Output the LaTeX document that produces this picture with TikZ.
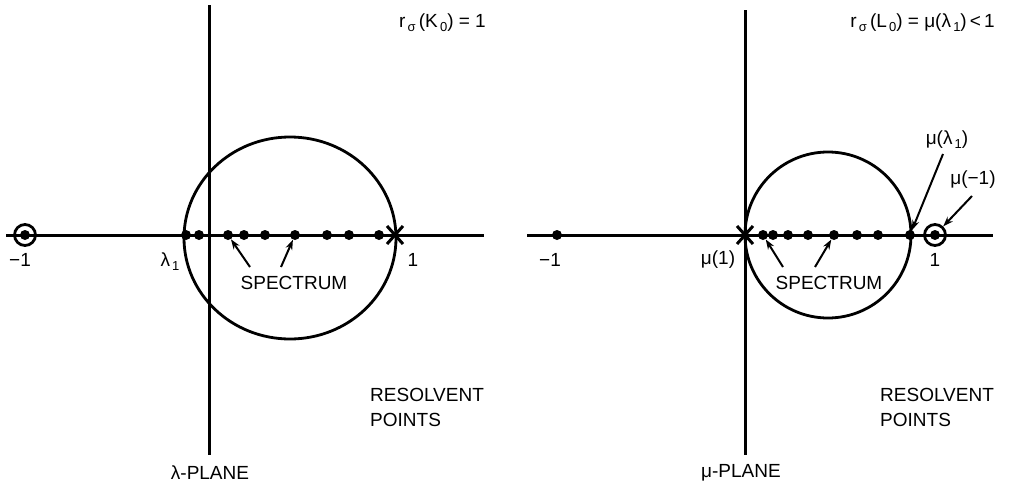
\documentclass[tikz,border=0pt]{standalone}
\usepackage{fontspec}
\setmainfont{Liberation Sans}
\usetikzlibrary{arrows.meta}
\newcommand{\lsub}[1]{\raisebox{-0.4ex}{\fontsize{13}{13}\selectfont\,#1}}
\begin{document}
\begin{tikzpicture}[x=1pt,y=-1pt,
 ax/.style={line width=3pt},
 crv/.style={line width=2.8pt},
 dot/.style={circle,fill=black,inner sep=0pt,minimum size=10pt},
 ring/.style={circle,draw=black,line width=2.8pt,inner sep=0pt,minimum size=21pt},
 lbl/.style={font=\fontsize{19}{25}\selectfont,inner sep=0pt},
 arr/.style={line width=2pt,-{Stealth[length=10pt,width=7pt]}},
 xmark/.style={line width=3pt}]
\useasboundingbox (0,0) rectangle (1013,490);

% ---------- left panel ----------
\draw[ax] (6,235) -- (484,235);
\draw[ax] (209,5) -- (209,455);
\draw[crv] (290,238) ellipse [x radius=106, y radius=101];
\foreach \i/\x in {1/186,2/199,3/228,4/244,5/265,6/295,7/327,8/349,9/379}
  \node[dot] (ld\i) at (\x,235) {};
\node[ring] (lring) at (25,235) {};
\node[dot] (lm) at (25,235) {};
\coordinate (lx) at (395,235);
\draw[xmark] ([shift={(-8,-9)}]lx) -- ([shift={(8,9)}]lx);
\draw[xmark] ([shift={(-8,9)}]lx) -- ([shift={(8,-9)}]lx);

\node[lbl] (lm1) at (20,260) {−1};
\node[lbl] (llam) at (170,262) {λ\lsub{1}};
\node[lbl] (lone) at (413,260) {1};
\node[lbl] (lspec) at (294,283) {SPECTRUM};
\coordinate (ls1) at (250,267);
\coordinate (ls2) at (281,267);
\draw[arr] (ls1) -- (ld3);
\draw[arr] (ls2) -- (ld6);
\node[lbl,anchor=east] (lrk) at (486,23) {r\lsub{σ}\,(K\lsub{0}) = 1};
\node[lbl,align=left,anchor=west] (lres) at (370,407) {RESOLVENT\\POINTS};
\node[lbl] (lplane) at (210,473) {λ-PLANE};

% ---------- right panel ----------
\draw[ax] (527,235) -- (993,235);
\draw[ax] (745,10) -- (745,455);
\draw[crv] (828,235) circle [radius=83];
\foreach \i/\x in {1/557,2/763,3/773,4/788,5/808,6/834,7/857,8/878,9/910}
  \node[dot] (rd\i) at (\x,235) {};
\node[ring] (rring) at (935,235) {};
\node[dot] (rp) at (935,235) {};
\coordinate (rx) at (745,235);
\draw[xmark] ([shift={(-8,-9)}]rx) -- ([shift={(8,9)}]rx);
\draw[xmark] ([shift={(-8,9)}]rx) -- ([shift={(8,-9)}]rx);

\node[lbl] (rm1) at (550,260) {−1};
\node[lbl] (rmu1) at (718,260) {μ(1)};
\node[lbl] (rone) at (935,260) {1};
\node[lbl] (rspec) at (829,283) {SPECTRUM};
\coordinate (rs1) at (783,267);
\coordinate (rs2) at (815,267);
\draw[arr] (rs1) -- (rd2);
\draw[arr] (rs2) -- (rd6);
\node[lbl] (rmul) at (947,140) {μ(λ\lsub{1})};
\node[lbl] (rmum) at (973,180) {μ(−1)};
\coordinate (ra1) at (943,154);
\coordinate (ra2) at (972,196);
\draw[arr] (ra1) -- (rd9);
\draw[arr] (ra2) -- (rring);
\node[lbl,anchor=east] (rrl) at (995,23) {r\lsub{σ}\,(L\lsub{0}) = μ(λ\lsub{1})\,<\,1};
\node[lbl,align=left,anchor=west] (rres) at (880,407) {RESOLVENT\\POINTS};
\node[lbl] (rplane) at (741,473) {μ-PLANE};
\end{tikzpicture}
\end{document}
